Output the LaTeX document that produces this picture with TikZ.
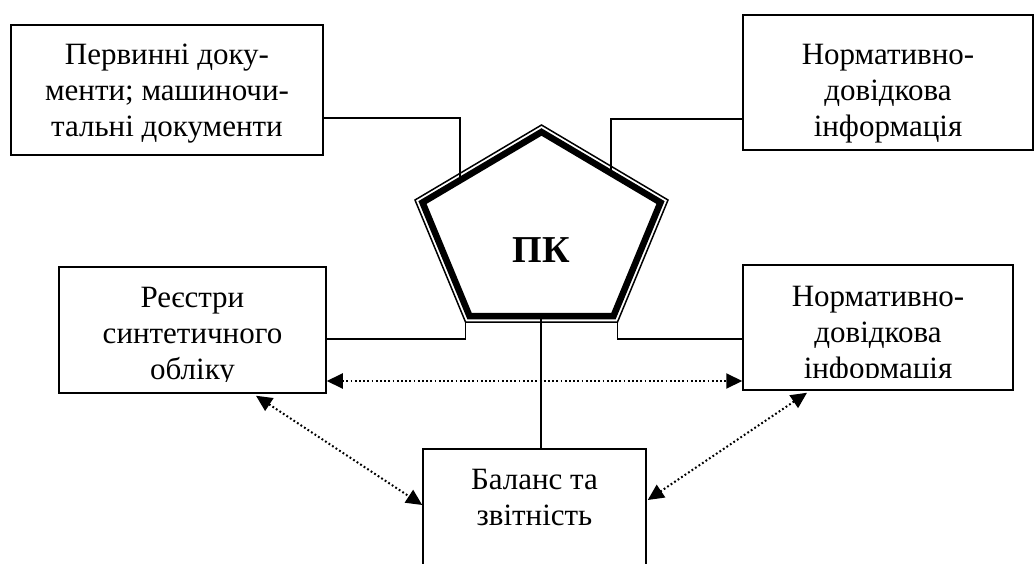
\documentclass[tikz,border=0pt]{standalone}
\usepackage{fontspec}
\setmainfont{Liberation Serif}
\usetikzlibrary{arrows.meta,calc}
\begin{document}
\begin{tikzpicture}[x=1pt,y=-1pt,
  box/.style={draw,line width=1.5pt,inner sep=0pt,rectangle},
  txt/.style={align=center,inner sep=0pt,font=\fontsize{31}{36}\selectfont},
  conn/.style={line width=1.5pt},
  tipA/.tip={Triangle[length=16pt,width=15pt]},
  dotarrow/.style={line width=2pt,dash pattern=on 1.8pt off 2.4pt,tipA-tipA}]
\useasboundingbox (0,0) rectangle (1035,564);
\clip (0,0) rectangle (1035,564);

% boxes
\node[box,minimum width=312pt,minimum height=130pt] (b1) at (167,90) {};
\node[box,minimum width=290pt,minimum height=135pt] (b2) at (888,82.5) {};
\node[box,minimum width=267pt,minimum height=126pt] (b3) at (192.5,330) {};
\node[box,minimum width=270pt,minimum height=125pt] (b4) at (878,327.5) {};
\node[box,minimum width=223pt,minimum height=151pt] (b5) at (534.5,524.5) {};

% texts
\node[txt] (t1) at (167,94) {Первинні доку-\\менти; машиночи-\\тальні документи};
\node[txt] (t2) at (888,94) {Нормативно-\\довідкова\\інформація};
\begin{scope}
  \clip (59,267) rectangle (326,381);
  \node[txt] (t3) at (192.5,337) {Реєстри\\синтетичного\\обліку};
\end{scope}
\begin{scope}
  \clip (743,265) rectangle (1013,377.5);
  \node[txt] (t4) at (878,336) {Нормативно-\\довідкова\\інформація};
\end{scope}
\node[txt] (t5) at (534.5,497) {Баланс та\\звітність};

% pentagon
\coordinate (pT) at (541.5,125);
\coordinate (pL) at (415,200);
\coordinate (pR) at (668,200);
\coordinate (pBL) at (465.5,322);
\coordinate (pBR) at (617.5,322);
\coordinate (qT) at (541.5,132);
\coordinate (qL) at (422.5,202.5);
\coordinate (qR) at (660.5,202.5);
\coordinate (qBL) at (469.5,316);
\coordinate (qBR) at (613.5,316);
\draw[line width=1.5pt,line join=miter] (pT)--(pR)--(pBR)--(pBL)--(pL)--cycle;
\draw[line width=6.5pt,line join=miter] (qT)--(qR)--(qBR)--(qBL)--(qL)--cycle;
\node[font=\fontsize{38}{40}\selectfont\bfseries,inner sep=0pt] (pk) at (541.5,250) {ПК};

% connector end points on the pentagon
\coordinate (c1) at (460,178);
\coordinate (c2) at (611,172);
\coordinate (c3) at (465.5,322);
\coordinate (c4) at (617.5,322);
\coordinate (c5) at (541,316);

% solid connectors
\draw[conn] ([yshift=-28pt]b1.east) -| (c1);
\draw[conn] ([yshift=-36.5pt]b2.west) -| (c2);
\draw[conn] ([yshift=-9pt]b3.east) -| (c3);
\draw[conn] ([yshift=-11.5pt]b4.west) -| (c4);
\draw[conn] (c5) -- (c5 |- b5.north);

% dotted double arrows
\draw[dotarrow] ([yshift=-51pt]b3.east) -- ([yshift=-53.5pt]b4.west);
\draw[dotarrow] ([xshift=63.5pt,yshift=-2pt]b3.south) -- ([yshift=19.5pt]b5.west);
\draw[dotarrow] ([xshift=-71pt,yshift=-2pt]b4.south) -- ([xshift=1pt,yshift=24.5pt]b5.east);
\end{tikzpicture}
\end{document}
